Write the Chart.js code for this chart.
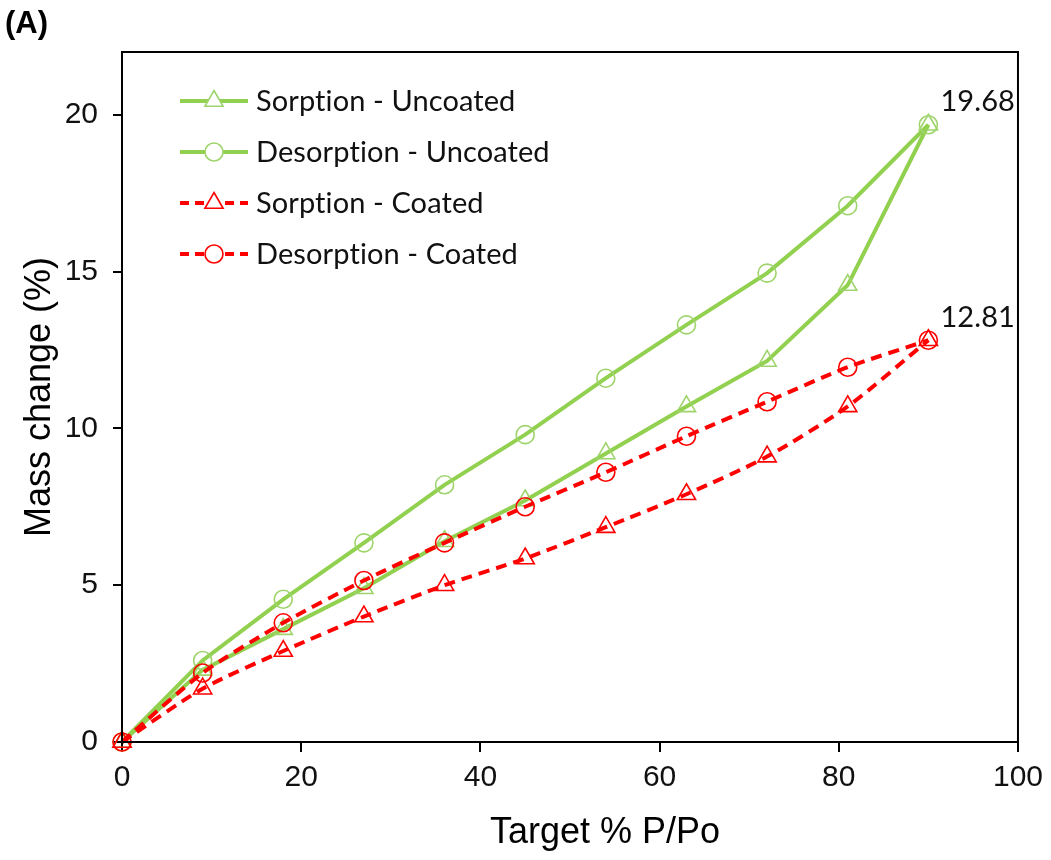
<!DOCTYPE html>
<html>
<head>
<meta charset="utf-8">
<script src="https://cdn.jsdelivr.net/npm/chart.js@4/dist/chart.umd.min.js"></script>
<style>
  html, body { margin: 0; padding: 0; background: #fff; }
  #wrap { width: 1051px; height: 860px; }
</style>
</head>
<body>
<div id="wrap"><canvas id="isothermChart" width="1051" height="860"></canvas></div>
<script>
// target relative humidity steps (% P/Po)
const targetPPo = [0, 9, 18, 27, 36, 45, 54, 63, 72, 81, 90];

// mass change (%)
const sorptionUncoated   = [0, 2.3, 3.6, 4.9, 6.4, 7.7, 9.2, 10.7, 12.15, 14.57, 19.68];
const desorptionUncoated = [0, 2.6, 4.55, 6.35, 8.2, 9.8, 11.6, 13.3, 14.95, 17.1, 19.68];
const sorptionCoated     = [0, 1.7, 2.9, 4.0, 5.0, 5.85, 6.85, 7.9, 9.1, 10.7, 12.81];
const desorptionCoated   = [0, 2.2, 3.8, 5.15, 6.35, 7.5, 8.6, 9.75, 10.85, 11.95, 12.81];

const xTicks = [0, 20, 40, 60, 80, 100];
const yTicks = [0, 5, 10, 15, 20];

const seriesNames = ['Sorption - Uncoated', 'Desorption - Uncoated', 'Sorption - Coated', 'Desorption - Coated'];
const endLabels = [
    { x: 90, y: 19.68, text: '19.68' },
    { x: 90, y: 12.81, text: '12.81' }
];

const GREEN = '#92D050';
const GREEN_MARK = '#9ED46B';
const RED = '#FF0000';

function toPoints(values) {
    return targetPPo.map((x, i) => ({ x: x, y: values[i] }));
}

function series(label, values, color, markColor, style, dashed, order) {
    return {
        label: label,
        data: toPoints(values),
        borderColor: color,
        borderWidth: 4,
        borderDash: dashed ? [11, 7] : [],
        tension: dashed ? 0.25 : 0,
        pointStyle: style,
        pointRadius: style === 'triangle' ? 10.5 : 9,
        pointBorderColor: markColor,
        pointBackgroundColor: 'rgba(0,0,0,0)',
        pointBorderWidth: 1.6,
        clip: false,
        order: order
    };
}

// frame, legend, end labels and titles
const decorations = {
    id: 'decorations',
    afterDraw(chart) {
        const { ctx, chartArea: a } = chart;
        const xs = chart.scales.x, ys = chart.scales.y;
        ctx.save();

        ctx.strokeStyle = '#000';
        ctx.lineWidth = 2;
        ctx.strokeRect(a.left, a.top, a.right - a.left, a.bottom - a.top);

        // legend inside the plot (no "ti" ligature, like the original)
        ctx.textRendering = 'optimizeSpeed';
        ctx.letterSpacing = '0.1px';
        ctx.font = '29px Lato, "Noto Sans", sans-serif';
        ctx.textBaseline = 'middle';
        ctx.textAlign = 'left';
        chart.data.datasets.forEach((ds, i) => {
            const y = 101 + i * 51;
            ctx.save();
            ctx.strokeStyle = ds.borderColor;
            ctx.lineWidth = 4;
            ctx.setLineDash(ds.borderDash.length ? [9, 6] : []);
            ctx.beginPath();
            ctx.moveTo(180, y);
            ctx.lineTo(248, y);
            ctx.stroke();
            ctx.setLineDash([]);
            ctx.fillStyle = '#fff';
            ctx.lineWidth = ds.pointBorderWidth;
            ctx.strokeStyle = ds.pointBorderColor;
            Chart.helpers.drawPoint(ctx, { pointStyle: ds.pointStyle, radius: ds.pointRadius, borderWidth: ds.pointBorderWidth }, 214, y);
            ctx.restore();
            ctx.fillStyle = '#111';
            ctx.fillText(ds.label, 256, y + 1);
        });

        endLabels.forEach(l => {
            ctx.fillText(l.text, xs.getPixelForValue(l.x) + 12, ys.getPixelForValue(l.y) - 23);
        });
        ctx.letterSpacing = '0px';

        ctx.fillStyle = '#000';
        ctx.font = 'bold 31px "Liberation Sans", Arial, sans-serif';
        ctx.fillText('(A)', 5, 24);

        ctx.font = '36px "Liberation Sans", Arial, sans-serif';
        ctx.textAlign = 'center';
        ctx.fillText('Target % P/Po', 605, 833);
        ctx.translate(40, (a.top + a.bottom) / 2);
        ctx.rotate(-Math.PI / 2);
        ctx.fillText('Mass change (%)', 0, 0);
        ctx.restore();
    }
};

const tickFont = { family: '"Liberation Sans", Arial, sans-serif', size: 30 };

new Chart(document.getElementById('isothermChart').getContext('2d'), {
    type: 'line',
    data: {
        datasets: [
            series(seriesNames[0], sorptionUncoated, GREEN, GREEN_MARK, 'triangle', false, 4),
            series(seriesNames[1], desorptionUncoated, GREEN, GREEN_MARK, 'circle', false, 3),
            series(seriesNames[2], sorptionCoated, RED, RED, 'triangle', true, 2),
            series(seriesNames[3], desorptionCoated, RED, RED, 'circle', true, 1)
        ]
    },
    options: {
        responsive: false,
        animation: false,
        events: [],
        layout: { padding: { top: 52, right: 33, left: 0, bottom: 0 } },
        plugins: {
            legend: { display: false },
            tooltip: { enabled: false }
        },
        scales: {
            x: {
                type: 'linear',
                min: 0,
                max: 100,
                afterFit: s => { s.height = 118; },
                afterBuildTicks: s => { s.ticks = xTicks.map(v => ({ value: v })); },
                grid: { display: true, drawOnChartArea: false, drawTicks: true, tickLength: 10, color: '#000', lineWidth: 2 },
                border: { display: true, color: '#000', width: 2 },
                ticks: { color: '#111', font: tickFont, padding: 8, maxRotation: 0 }
            },
            y: {
                type: 'linear',
                min: 0,
                max: 22,
                afterFit: s => { s.width = 122; },
                afterBuildTicks: s => { s.ticks = yTicks.map(v => ({ value: v })); },
                grid: { display: true, drawOnChartArea: false, drawTicks: true, tickLength: 9, color: '#000', lineWidth: 2 },
                border: { display: true, color: '#000', width: 2 },
                ticks: { color: '#111', font: tickFont, padding: 15 }
            }
        }
    },
    plugins: [decorations]
});
</script>
</body>
</html>
